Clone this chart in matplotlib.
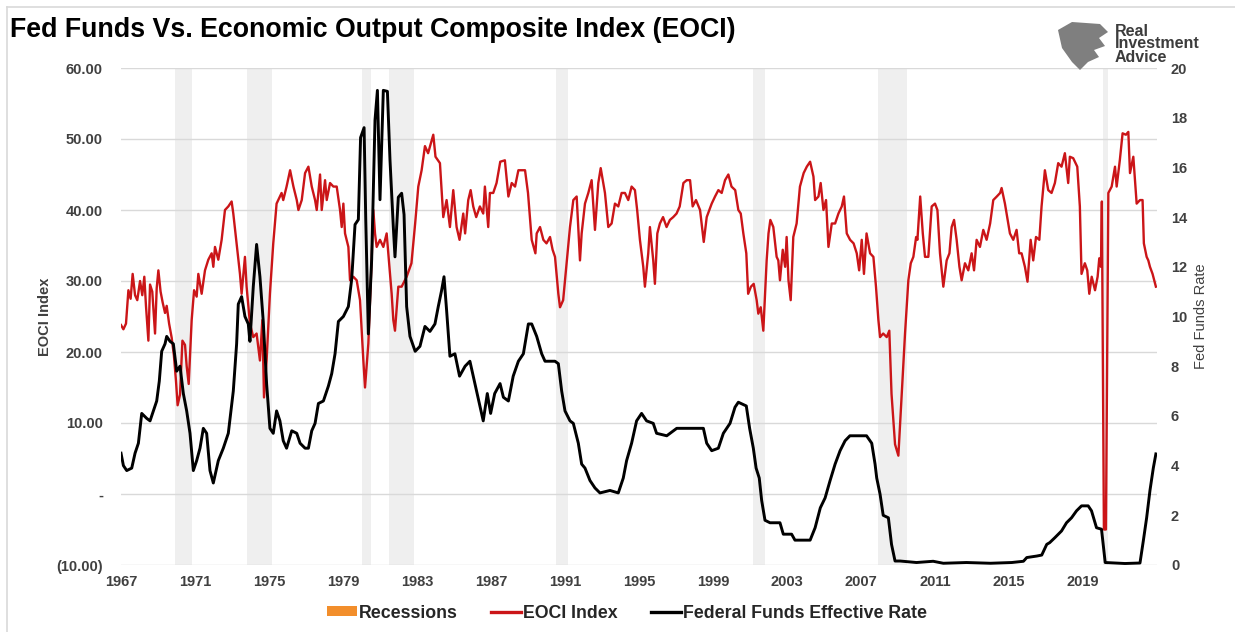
import matplotlib
matplotlib.use("Agg")
import matplotlib.pyplot as plt
from matplotlib.patches import Patch, Polygon
from matplotlib.lines import Line2D

# ---------------- data ----------------
eoci_year = [1967.0, 1967.13, 1967.27, 1967.4, 1967.52, 1967.63, 1967.76, 1967.88, 1968.03, 1968.15,
             1968.26, 1968.35, 1968.48, 1968.57, 1968.69, 1968.84, 1968.93, 1969.02, 1969.14, 1969.25,
             1969.38, 1969.47, 1969.6, 1969.74, 1969.86, 1969.97, 1970.06, 1970.19, 1970.32, 1970.46,
             1970.55, 1970.66, 1970.82, 1970.95, 1971.09, 1971.18, 1971.36, 1971.54, 1971.72, 1971.9,
             1971.99, 1972.08, 1972.26, 1972.44, 1972.62, 1972.8, 1972.98, 1973.07, 1973.25, 1973.43,
             1973.52, 1973.7, 1973.79, 1973.97, 1974.15, 1974.33, 1974.51, 1974.64, 1974.73, 1974.87,
             1975.05, 1975.23, 1975.41, 1975.68, 1975.77, 1975.95, 1976.14, 1976.32, 1976.5, 1976.59,
             1976.77, 1976.95, 1977.13, 1977.31, 1977.49, 1977.58, 1977.76, 1977.85, 1978.03, 1978.12,
             1978.3, 1978.48, 1978.66, 1978.84, 1978.93, 1979.02, 1979.11, 1979.29, 1979.38, 1979.56,
             1979.74, 1979.92, 1980.1, 1980.19, 1980.37, 1980.55, 1980.64, 1980.73, 1980.82, 1981.0,
             1981.18, 1981.36, 1981.45, 1981.63, 1981.72, 1981.81, 1981.99, 1982.17, 1982.44, 1982.7,
             1982.9, 1983.07, 1983.25, 1983.43, 1983.6, 1983.88, 1984.0, 1984.24, 1984.42, 1984.6,
             1984.78, 1984.96, 1985.14, 1985.3, 1985.5, 1985.6, 1985.77, 1985.9, 1986.04, 1986.2,
             1986.4, 1986.58, 1986.67, 1986.85, 1986.94, 1987.12, 1987.3, 1987.5, 1987.75, 1987.94,
             1988.12, 1988.3, 1988.48, 1988.66, 1988.84, 1989.0, 1989.2, 1989.4, 1989.47, 1989.65,
             1989.83, 1990.0, 1990.19, 1990.33, 1990.46, 1990.64, 1990.73, 1990.9, 1991.1, 1991.27,
             1991.45, 1991.63, 1991.81, 1991.9, 1992.08, 1992.26, 1992.44, 1992.62, 1992.8, 1992.93,
             1993.16, 1993.34, 1993.52, 1993.7, 1993.88, 1994.06, 1994.24, 1994.42, 1994.6, 1994.78,
             1994.9, 1995.05, 1995.23, 1995.32, 1995.5, 1995.59, 1995.77, 1995.86, 1995.99, 1996.13,
             1996.3, 1996.49, 1996.67, 1996.85, 1997.03, 1997.2, 1997.4, 1997.58, 1997.76, 1997.9,
             1998.08, 1998.3, 1998.5, 1998.66, 1998.93, 1999.11, 1999.29, 1999.47, 1999.65, 1999.83,
             2000.0, 2000.2, 2000.37, 2000.5, 2000.64, 2000.8, 2000.9, 2001.05, 2001.2, 2001.36,
             2001.45, 2001.58, 2001.72, 2001.9, 2002.0, 2002.1, 2002.26, 2002.44, 2002.53, 2002.62,
             2002.77, 2002.9, 2002.98, 2003.08, 2003.2, 2003.34, 2003.52, 2003.7, 2003.9, 2004.07,
             2004.25, 2004.43, 2004.52, 2004.7, 2004.82, 2004.97, 2005.11, 2005.24, 2005.42, 2005.6,
             2005.78, 2005.96, 2006.08, 2006.23, 2006.41, 2006.6, 2006.77, 2006.9, 2007.04, 2007.16,
             2007.3, 2007.49, 2007.67, 2007.81, 2007.94, 2008.03, 2008.2, 2008.39, 2008.53, 2008.65,
             2008.84, 2009.02, 2009.2, 2009.38, 2009.56, 2009.69, 2009.83, 2009.98, 2010.05, 2010.2,
             2010.34, 2010.46, 2010.64, 2010.82, 2011.0, 2011.13, 2011.27, 2011.45, 2011.63, 2011.78,
             2011.9, 2012.03, 2012.17, 2012.32, 2012.44, 2012.62, 2012.8, 2012.98, 2013.11, 2013.25,
             2013.43, 2013.61, 2013.79, 2013.98, 2014.15, 2014.34, 2014.52, 2014.6, 2014.78, 2014.9,
             2015.05, 2015.23, 2015.41, 2015.55, 2015.68, 2015.86, 2016.0, 2016.17, 2016.31, 2016.46,
             2016.64, 2016.76, 2016.94, 2017.12, 2017.3, 2017.48, 2017.66, 2017.84, 2018.02, 2018.2,
             2018.29, 2018.47, 2018.69, 2018.83, 2018.92, 2019.1, 2019.23, 2019.34, 2019.47, 2019.65,
             2019.79, 2019.88, 2019.97, 2020.02, 2020.13, 2020.24, 2020.37, 2020.55, 2020.73, 2020.82,
             2020.99, 2021.14, 2021.32, 2021.45, 2021.54, 2021.72, 2021.9, 2022.08, 2022.22, 2022.29,
             2022.44, 2022.53, 2022.62, 2022.76, 2022.94]
eoci_value = [23.8, 23.2, 24.0, 28.7, 27.5, 31.0, 28.0, 27.3, 30.0, 28.0,
              30.6, 26.5, 21.6, 29.5, 28.5, 22.6, 29.0, 31.5, 28.5, 27.0,
              25.5, 26.5, 24.0, 22.0, 19.5, 16.0, 12.5, 14.0, 21.6, 21.0,
              18.0, 15.5, 24.5, 28.7, 27.8, 31.0, 28.2, 31.5, 33.0, 33.9,
              32.0, 34.8, 33.0, 35.8, 40.0, 40.5, 41.2, 39.5, 35.3, 31.0,
              28.2, 33.4, 29.2, 24.0, 22.1, 22.6, 18.8, 24.5, 13.6, 18.8,
              28.2, 35.3, 40.9, 42.4, 41.4, 43.3, 45.6, 43.3, 41.4, 40.0,
              41.4, 45.2, 46.1, 43.3, 41.4, 40.0, 45.0, 40.0, 44.2, 41.4,
              43.8, 43.3, 43.3, 40.0, 37.6, 40.9, 36.7, 34.8, 30.1, 30.6,
              30.1, 27.3, 18.8, 15.0, 21.2, 33.0, 40.0, 36.7, 34.8, 35.8,
              34.8, 36.7, 33.9, 28.2, 24.5, 23.0, 29.2, 29.2, 30.6, 32.5,
              38.1, 43.3, 45.6, 49.0, 48.0, 50.6, 47.5, 46.6, 39.0, 41.4,
              37.6, 42.8, 37.6, 35.8, 39.5, 36.7, 41.4, 42.8, 40.5, 39.0,
              40.5, 39.5, 43.3, 37.6, 42.4, 42.4, 43.8, 46.8, 47.0, 41.9,
              43.8, 43.3, 45.6, 45.6, 45.6, 42.4, 35.8, 33.9, 36.7, 37.6,
              35.8, 35.3, 36.2, 34.4, 33.4, 28.2, 26.3, 27.3, 32.9, 37.6,
              41.4, 41.9, 32.9, 36.7, 40.9, 42.4, 44.2, 37.2, 43.8, 45.9,
              42.4, 37.6, 38.1, 40.9, 40.5, 42.4, 42.4, 41.4, 43.3, 42.8,
              40.0, 35.8, 32.0, 29.2, 33.9, 37.6, 32.9, 29.6, 36.7, 38.1,
              39.0, 37.6, 38.6, 39.0, 39.5, 40.5, 43.8, 44.2, 44.2, 40.5,
              41.4, 40.0, 35.5, 39.0, 40.9, 41.9, 42.8, 42.4, 44.2, 45.0,
              43.3, 42.8, 40.0, 39.5, 36.7, 33.9, 28.2, 29.2, 29.6, 27.3,
              25.4, 26.3, 23.0, 32.9, 36.7, 38.6, 37.6, 33.4, 32.9, 30.1,
              34.4, 32.0, 36.2, 30.1, 27.3, 36.2, 38.1, 43.3, 45.2, 46.1,
              46.8, 44.7, 41.4, 41.9, 43.8, 40.0, 41.4, 34.8, 38.1, 38.1,
              39.5, 40.5, 41.9, 36.7, 35.8, 35.3, 33.9, 31.5, 35.8, 31.0,
              36.7, 33.9, 33.4, 29.2, 24.5, 22.1, 22.6, 22.1, 23.0, 14.1,
              7.0, 5.4, 14.1, 22.6, 30.1, 32.5, 33.4, 36.2, 35.8, 41.9,
              36.7, 33.4, 33.4, 40.5, 40.9, 40.0, 33.9, 29.2, 32.9, 33.9,
              37.6, 38.6, 35.8, 32.0, 30.1, 32.5, 31.5, 33.9, 31.5, 35.8,
              34.8, 37.2, 35.8, 38.1, 41.4, 41.9, 42.4, 43.1, 40.9, 39.0,
              36.7, 35.8, 37.2, 33.9, 33.9, 32.0, 29.9, 35.8, 32.9, 36.2,
              35.8, 40.5, 45.6, 42.8, 42.4, 43.8, 46.6, 46.1, 48.0, 43.8,
              47.5, 47.3, 46.1, 40.5, 31.0, 32.5, 31.5, 28.2, 30.6, 28.7,
              30.6, 33.2, 32.0, 41.2, -5.0, -5.0, 42.4, 43.3, 46.1, 43.3,
              47.0, 50.8, 50.6, 51.0, 45.2, 47.5, 40.9, 41.4, 41.4, 35.3,
              33.4, 32.9, 32.0, 31.0, 29.2]

ff_year = [1967.0, 1967.13, 1967.31, 1967.58, 1967.76, 1967.94, 1968.12, 1968.39, 1968.57, 1968.75,
           1968.93, 1969.07, 1969.2, 1969.38, 1969.47, 1969.65, 1969.83, 1970.01, 1970.19, 1970.37,
           1970.55, 1970.73, 1970.91, 1971.09, 1971.27, 1971.45, 1971.63, 1971.81, 1971.99, 1972.26,
           1972.53, 1972.8, 1973.07, 1973.25, 1973.34, 1973.52, 1973.7, 1973.88, 1973.97, 1974.15,
           1974.33, 1974.51, 1974.69, 1974.87, 1975.05, 1975.23, 1975.41, 1975.59, 1975.77, 1975.95,
           1976.23, 1976.5, 1976.68, 1976.95, 1977.13, 1977.31, 1977.49, 1977.67, 1977.94, 1978.21,
           1978.39, 1978.57, 1978.75, 1979.02, 1979.29, 1979.47, 1979.65, 1979.83, 1979.95, 1980.14,
           1980.23, 1980.37, 1980.55, 1980.73, 1980.86, 1981.0, 1981.18, 1981.4, 1981.54, 1981.72,
           1981.81, 1981.99, 1982.17, 1982.3, 1982.44, 1982.62, 1982.9, 1983.16, 1983.43, 1983.7,
           1983.97, 1984.15, 1984.33, 1984.46, 1984.6, 1984.78, 1985.05, 1985.3, 1985.6, 1985.86,
           1986.04, 1986.3, 1986.58, 1986.8, 1986.98, 1987.2, 1987.49, 1987.67, 1987.94, 1988.2,
           1988.48, 1988.75, 1989.02, 1989.2, 1989.47, 1989.74, 1989.92, 1990.19, 1990.46, 1990.64,
           1990.82, 1991.0, 1991.27, 1991.45, 1991.72, 1991.9, 1992.08, 1992.35, 1992.62, 1992.89,
           1993.43, 1993.88, 1994.15, 1994.33, 1994.6, 1994.87, 1995.14, 1995.41, 1995.77, 1995.95,
           1996.5, 1997.04, 1997.58, 1998.12, 1998.48, 1998.66, 1998.93, 1999.29, 1999.56, 1999.92,
           2000.19, 2000.37, 2000.8, 2000.98, 2001.18, 2001.33, 2001.5, 2001.63, 2001.81, 2002.08,
           2002.62, 2002.8, 2003.25, 2003.43, 2004.25, 2004.52, 2004.8, 2005.06, 2005.33, 2005.6,
           2005.87, 2006.14, 2006.4, 2007.3, 2007.58, 2007.76, 2007.85, 2008.03, 2008.2, 2008.48,
           2008.65, 2008.84, 2009.11, 2010.0, 2010.9, 2011.45, 2012.7, 2014.0, 2015.15, 2015.78,
           2015.96, 2016.5, 2016.77, 2017.04, 2017.2, 2017.48, 2017.84, 2018.11, 2018.38, 2018.65,
           2018.92, 2019.28, 2019.46, 2019.73, 2020.0, 2020.2, 2020.8, 2021.27, 2022.08, 2022.26,
           2022.44, 2022.62, 2022.8, 2022.94]
ff_value = [4.5, 4.0, 3.8, 3.9, 4.5, 4.9, 6.1, 5.9, 5.8, 6.2,
            6.6, 7.4, 8.6, 8.9, 9.2, 9.0, 8.9, 7.8, 8.0, 6.9,
            6.2, 5.3, 3.8, 4.2, 4.7, 5.5, 5.3, 3.8, 3.3, 4.2,
            4.7, 5.3, 7.0, 8.9, 10.5, 10.8, 10.0, 9.7, 9.0, 11.2,
            12.9, 11.6, 9.8, 7.3, 5.5, 5.3, 6.2, 5.8, 5.0, 4.7,
            5.4, 5.3, 4.9, 4.7, 4.7, 5.4, 5.7, 6.5, 6.6, 7.2,
            7.7, 8.5, 9.8, 10.0, 10.4, 11.5, 13.7, 13.9, 17.2, 17.6,
            13.9, 9.3, 12.3, 17.9, 19.1, 14.7, 19.1, 19.06, 16.3, 13.6,
            12.4, 14.8, 14.96, 14.1, 10.4, 9.2, 8.6, 8.8, 9.6, 9.4,
            9.7, 10.4, 11.05, 11.6, 10.25, 8.4, 8.5, 7.6, 8.0, 8.2,
            7.6, 6.75, 5.8, 6.9, 6.1, 6.9, 7.3, 6.75, 6.6, 7.6,
            8.2, 8.5, 9.7, 9.7, 9.2, 8.5, 8.2, 8.2, 8.2, 8.1,
            7.0, 6.2, 5.8, 5.7, 4.9, 4.06, 3.9, 3.4, 3.1, 2.9,
            3.0, 2.9, 3.5, 4.2, 4.9, 5.8, 6.1, 5.8, 5.7, 5.3,
            5.2, 5.5, 5.5, 5.5, 5.5, 4.9, 4.6, 4.7, 5.3, 5.7,
            6.35, 6.55, 6.4, 5.5, 4.7, 3.9, 3.5, 2.6, 1.8, 1.7,
            1.7, 1.24, 1.24, 1.0, 1.0, 1.5, 2.3, 2.7, 3.4, 4.06,
            4.6, 5.0, 5.2, 5.2, 4.9, 4.06, 3.5, 2.85, 2.0, 1.9,
            0.83, 0.16, 0.16, 0.1, 0.15, 0.07, 0.1, 0.07, 0.1, 0.15,
            0.3, 0.36, 0.4, 0.83, 0.9, 1.1, 1.37, 1.7, 1.9, 2.18,
            2.38, 2.38, 2.18, 1.5, 1.44, 0.1, 0.08, 0.06, 0.08, 0.97,
            1.9, 3.0, 3.9, 4.47]

recession_start = [1969.92, 1973.83, 1980.0, 1981.5, 1990.5, 2001.17, 2007.92, 2020.08]
recession_end = [1970.83, 1975.17, 1980.5, 1982.83, 1991.17, 2001.83, 2009.46, 2020.33]

x_ticks = [1967, 1971, 1975, 1979, 1983, 1987, 1991, 1995, 1999, 2003, 2007, 2011, 2015, 2019]
left_ticks = [-10, 0, 10, 20, 30, 40, 50, 60]
left_tick_labels = ["(10.00)", "-", "10.00", "20.00", "30.00", "40.00", "50.00", "60.00"]
right_ticks = [0, 2, 4, 6, 8, 10, 12, 14, 16, 18, 20]

# ---------------- style ----------------
plt.rcParams['font.family'] = ['Liberation Sans', 'DejaVu Sans']
W, H = 1235, 632
fig = plt.figure(figsize=(W / 100, H / 100), dpi=100)
fig.patch.set_facecolor('white')

L, R, T, B = 121, 1157, 68, 565
ax = fig.add_axes([L / W, 1 - B / H, (R - L) / W, (B - T) / H])
ax2 = ax.twinx()

tick_color = '#404040'
red = '#CB1518'

for s, e in zip(recession_start, recession_end):
    ax.axvspan(s, e, color='#efefef', lw=0, zorder=0)

ax.set_ylim(-10, 60)
ax.set_yticks(left_ticks)
ax.set_yticklabels(left_tick_labels)
ax.yaxis.grid(True, color='#d9d9d9', lw=1.0, zorder=0.5)
ax.set_axisbelow(True)
ax.set_xlim(1967.0, 2023.0)
ax.set_xticks(x_ticks)
ax.set_xticklabels([str(t) for t in x_ticks])

ax.plot(eoci_year, eoci_value, color=red, lw=1.7, zorder=3, solid_joinstyle='round')
ax2.plot(ff_year, ff_value, color='#000000', lw=2.1, zorder=4, solid_joinstyle='round')
ax2.set_ylim(0, 20)
ax2.set_yticks(right_ticks)

for a in (ax, ax2):
    for sp in a.spines.values():
        sp.set_visible(False)
    a.tick_params(length=0, colors=tick_color, labelsize=10.5)
    for lab in a.get_xticklabels() + a.get_yticklabels():
        lab.set_fontweight('bold')
ax.tick_params(axis='y', pad=13)
ax.tick_params(axis='x', pad=7)
ax2.tick_params(axis='y', pad=10)

ax.set_ylabel('EOCI Index', fontsize=10.5, fontweight='bold', color=tick_color, labelpad=3)
ax2.set_ylabel('Fed Funds Rate', fontsize=10.5, color=tick_color, labelpad=5)

# title
fig.text(10 / W, 1 - 30 / H, 'Fed Funds Vs. Economic Output Composite Index (EOCI)',
         fontsize=19.3, fontweight='bold', color='#000000', va='center', ha='left')

# frame lines
fig.add_artist(Line2D([7 / W, 7 / W], [0, 1 - 7 / H], color='#d9d9d9', lw=1.2))
fig.add_artist(Line2D([7 / W, 1], [1 - 7 / H, 1 - 7 / H], color='#d9d9d9', lw=1.2))

# logo
logo_pts = [(1058, 30), (1072, 22), (1100, 24), (1108, 32), (1099, 38), (1105, 46), (1094, 50),
            (1099, 57), (1088, 62), (1080, 70), (1072, 62), (1062, 48)]
fig.add_artist(Polygon([(x / W, 1 - y / H) for x, y in logo_pts], closed=True,
                       facecolor='#7f7f7f', edgecolor='none'))
for txt, yy in (('Real', 31), ('Investment', 44), ('Advice', 57)):
    fig.text(1115 / W, 1 - yy / H, txt, fontsize=11.5, fontweight='bold',
             color='#3c3c3c', va='center', ha='left')

# legend
handles = [Patch(facecolor='#F28E2B', edgecolor='none'),
           Line2D([], [], color=red, lw=2.4),
           Line2D([], [], color='black', lw=2.4)]
labels = ['Recessions', 'EOCI Index', 'Federal Funds Effective Rate']
leg = fig.legend(handles, labels, loc='center', bbox_to_anchor=(627 / W, 1 - 613 / H), ncol=3,
                 frameon=False, handlelength=1.65, handleheight=0.5, handletextpad=0.12,
                 columnspacing=1.9, prop={'weight': 'bold', 'size': 12.8})
for t in leg.get_texts():
    t.set_color('#262626')

fig.savefig('out.png', dpi=100, facecolor='white')
